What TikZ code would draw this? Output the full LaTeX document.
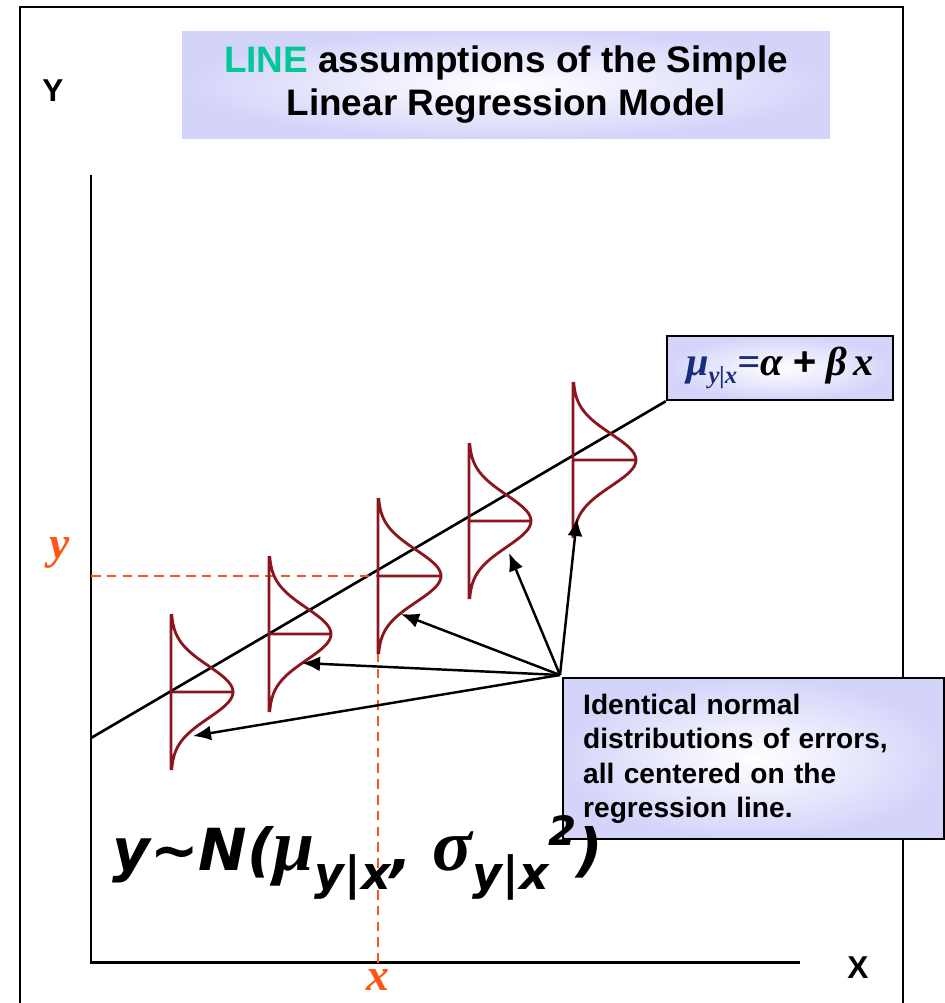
\documentclass[tikz,border=0pt]{standalone}
\usepackage{fontspec}
\setmainfont{Liberation Sans}
\newfontfamily\timesfont{Liberation Serif}
\newfontfamily\verdfont{DejaVu Sans}
\usepackage{xcolor}
\usepackage{tikz}
\usetikzlibrary{arrows.meta,positioning}

\definecolor{linegreen}{RGB}{0,200,150}
\definecolor{guide}{RGB}{255,85,20}
\definecolor{bellred}{RGB}{140,22,32}
\definecolor{lav}{RGB}{212,212,250}
\definecolor{mublue}{RGB}{25,45,120}

\newcommand{\lowsub}[1]{\raisebox{-11pt}{\fontsize{26}{26}\selectfont #1}}

\begin{document}
\begin{tikzpicture}[
  x=0.02cm, y=-0.02cm,
  panel/.style={shading=radial, inner color=white, outer color=lav},
  titlebox/.style={panel, align=center, minimum width=12.96cm, minimum height=2.16cm,
    font=\bfseries\fontsize{21}{24.5}\selectfont},
  mubox/.style={panel, draw, line width=1.4pt, minimum width=4.52cm, minimum height=1.28cm,
    font=\timesfont\bfseries\itshape\fontsize{23}{23}\selectfont},
  notebox/.style={panel, draw, line width=1.4pt, anchor=north west, align=left,
    text width=6.82cm, inner xsep=0.4cm, minimum height=3.22cm,
    font=\bfseries\fontsize{16}{19.6}\selectfont},
  axlabel/.style={font=\bfseries\fontsize{18}{18}\selectfont},
  varlabel/.style={text=guide, inner sep=1pt, font=\timesfont\bfseries\itshape\fontsize{26}{26}\selectfont},
  formula/.style={anchor=base west, inner sep=0pt,
    font=\verdfont\bfseries\itshape\fontsize{33}{33}\selectfont},
  bell/.style={bellred, line width=1.6pt},
  guideline/.style={guide, line width=1.6pt, dash pattern=on 5.5pt off 3.5pt},
  arrow/.style={-{Latex[length=3.6mm, width=3mm]}, line width=1.4pt}
]
\useasboundingbox (0,0) rectangle (945,1003);
% frame and axes
\draw[line width=1.5pt] (20,1003) |- (903,7) -- (903,1003);
\coordinate (ytop) at (91,175);
\coordinate (xend) at (800,962);
\draw[line width=1.7pt] (ytop) |- (xend);
\node[axlabel] (ylab) at (53,91) {Y};
\node[axlabel] (xlab) at (858,968) {X};

\node[titlebox] (title) at (506,85) {\textcolor{linegreen}{LINE} assumptions of the Simple\\Linear Regression Model};

% regression line
\node[mubox] (mu) at (780,368) {\textcolor{mublue}{μ\raisebox{-5pt}{\fontsize{14}{14}\selectfont y|x}=}α {\rmfamily +} β\,x};
\coordinate (lstart) at (91,738);
\draw[line width=1.5pt] (lstart) -- (mu.south west);

% y and x at the middle curve
\coordinate (ypos) at (91,576);
\node[varlabel] (yvar) at (60,553) {y};
\node[varlabel] (xvar) at (378,980) {x};
\draw[guideline] (ypos) -| (xvar.north);

% error distributions
\draw[bell] (171,614) -- (171,770) (171,692) -- (233,692)
  plot[domain=-78:78, samples=60] ({171+62*exp(-0.5*(\x/26)*(\x/26))}, {692+\x});
\draw[bell] (269,556) -- (269,712) (269,634) -- (331,634)
  plot[domain=-78:78, samples=60] ({269+62*exp(-0.5*(\x/26)*(\x/26))}, {634+\x});
\draw[bell] (378,498) -- (378,654) (378,576) -- (441,576)
  plot[domain=-78:78, samples=60] ({378+63*exp(-0.5*(\x/26)*(\x/26))}, {576+\x});
\draw[bell] (469,443) -- (469,599) (469,521) -- (531,521)
  plot[domain=-78:78, samples=60] ({469+62*exp(-0.5*(\x/26)*(\x/26))}, {521+\x});
\draw[bell] (573,382) -- (573,538) (573,460) -- (636,460)
  plot[domain=-78:78, samples=60] ({573+63*exp(-0.5*(\x/26)*(\x/26))}, {460+\x});

% note and its arrows
\node[notebox] (note) at (562,677) {Identical normal\\distributions of errors,\\all centered on the\\regression line.};
\coordinate (src) at (560,675);
\coordinate (t1) at (193,736);
\coordinate (t2) at (302,663);
\coordinate (t3) at (401,614);
\coordinate (t4) at (509,553);
\coordinate (t5) at (577,518);
\draw[arrow] (src) -- (t1);
\draw[arrow] (src) -- (t2);
\draw[arrow] (src) -- (t3);
\draw[arrow] (src) -- (t4);
\draw[arrow] (src) -- (t5);

\node[formula] (dist) at (112,870) {y\textasciitilde N({\timesfont\fontsize{42}{42}\selectfont μ}\lowsub{y|x}, {\timesfont\fontsize{42}{42}\selectfont σ}\lowsub{y|x}\raisebox{14pt}{\fontsize{23}{23}\selectfont 2})};
\end{tikzpicture}
\end{document}
